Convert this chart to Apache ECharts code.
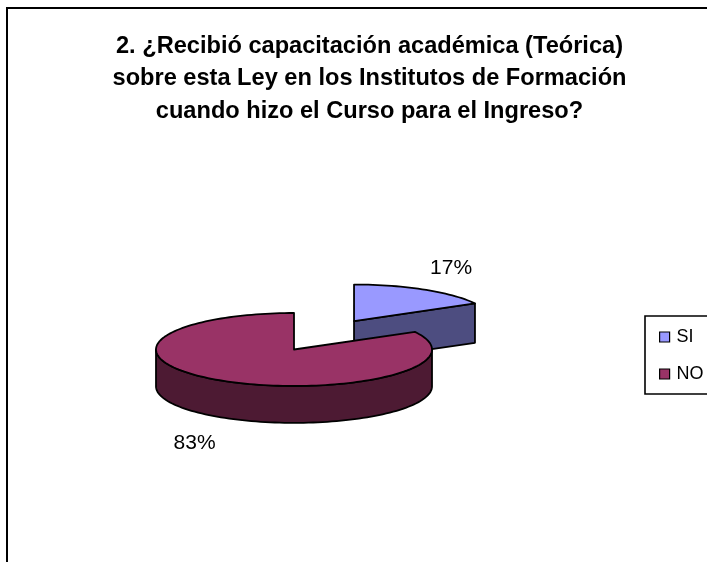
<!DOCTYPE html>
<html>
<head>
<meta charset="utf-8">
<style>html,body{margin:0;padding:0;background:#fff}#c{width:707px;height:562px}</style>
<script src="https://cdn.jsdelivr.net/npm/echarts@6/dist/echarts.min.js"></script>
</head>
<body>
<div id="c"></div>
<script>
var categories = ['SI', 'NO'];
var values = [17, 83];
var titleText = '2. ¿Recibió capacitación académica (Teórica)\nsobre esta Ley en los Institutos de Formación\ncuando hizo el Curso para el Ingreso?';
var topColors = ['#9999FF', '#993366'];
var sideColors = ['#4D4D80', '#4D1A33'];

// Geometry in unit-ellipse axis space
var explode = [[0.435, 0.78], [0, 0]];
var depths = [1.08, 1.01];
var labelPos = [[1.138, 2.23], [-0.72, -2.56]];
var total = values.reduce(function (a, b) { return a + b; }, 0);

function sliceRange(i) {
  var start = 0;
  for (var k = 0; k < i; k++) start += values[k] / total * 360;
  return [start, start + values[i] / total * 360];
}
function rim(a, o, dz) {
  var r = a * Math.PI / 180;
  return [Math.sin(r) + o[0], Math.cos(r) + o[1] - dz];
}
function arc(a0, a1, o, dz) {
  var pts = [];
  var n = Math.max(2, Math.ceil(Math.abs(a1 - a0) / 2));
  for (var j = 0; j <= n; j++) pts.push(rim(a0 + (a1 - a0) * j / n, o, dz));
  return pts;
}
function renderSlice(i) {
  return function (params, api) {
    var range = sliceRange(i), o = explode[i], depth = depths[i];
    var S = { stroke: '#000', lineWidth: 1.8, lineJoin: 'round' };
    var kids = [];
    function poly(points, fill) {
      kids.push({
        type: 'polygon',
        shape: { points: points.map(function (p) { return api.coord(p); }) },
        style: Object.assign({ fill: fill }, S)
      });
    }
    // visible cut wall
    if (range[1] < 90) {
      var e0 = rim(range[1], o, 0), e1 = rim(range[1], o, depth);
      poly([[o[0], o[1]], e0, e1, [o[0], o[1] - depth]], sideColors[i]);
    }
    // visible outer rim wall (front half of the ellipse)
    var w0 = Math.max(range[0], 90), w1 = Math.min(range[1], 270);
    if (w1 > w0) {
      poly(arc(w0, w1, o, 0).concat(arc(w1, w0, o, depth)), sideColors[i]);
    }
    // top face
    poly([[o[0], o[1]]].concat(arc(range[0], range[1], o, 0)), topColors[i]);
    // percentage label
    var lp = api.coord(labelPos[i]);
    kids.push({
      type: 'text', x: lp[0], y: lp[1],
      style: {
        text: Math.round(values[i] / total * 100) + '%',
        fill: '#000', font: '21px "Liberation Sans", Arial, sans-serif',
        align: 'center', verticalAlign: 'middle'
      }
    });
    return { type: 'group', children: kids };
  };
}

var chart = echarts.init(document.getElementById('c'), null, { renderer: 'canvas' });
chart.setOption({
  animation: false,
  backgroundColor: '#fff',
  title: {
    text: titleText,
    left: 364.5, top: 25, textAlign: 'center',
    textStyle: { fontFamily: '"Liberation Sans", Arial, sans-serif', fontWeight: 'bold', fontSize: 23.6, lineHeight: 32.5, color: '#000' }
  },
  grid: { left: 156, width: 276, top: 313, height: 73 },
  xAxis: { type: 'value', min: -1, max: 1, show: false },
  yAxis: { type: 'value', min: -1, max: 1, show: false },
  legend: {
    left: 645, top: 316, orient: 'vertical',
    data: categories.map(function (n) { return { name: n, icon: 'rect' }; }),
    padding: [12, 30, 11, 14],
    borderColor: '#000', borderWidth: 1.6,
    itemWidth: 10, itemHeight: 10, itemGap: 19,
    itemStyle: { borderColor: '#000', borderWidth: 1.2 },
    textStyle: { fontFamily: '"Liberation Sans", Arial, sans-serif', fontSize: 18, color: '#000', padding: [8, 0, 0, 2] }
  },
  graphic: [{
    type: 'rect', silent: true,
    shape: { x: 7, y: 8, width: 900, height: 800 },
    style: { fill: 'none', stroke: '#000', lineWidth: 2 }
  }],
  series: categories.map(function (name, i) {
    return {
      type: 'custom', name: name,
      coordinateSystem: 'cartesian2d',
      clip: false,
      itemStyle: { color: topColors[i] },
      data: [[0, 0, values[i]]],
      encode: { x: 0, y: 1 },
      renderItem: renderSlice(i)
    };
  })
});
</script>
</body>
</html>
